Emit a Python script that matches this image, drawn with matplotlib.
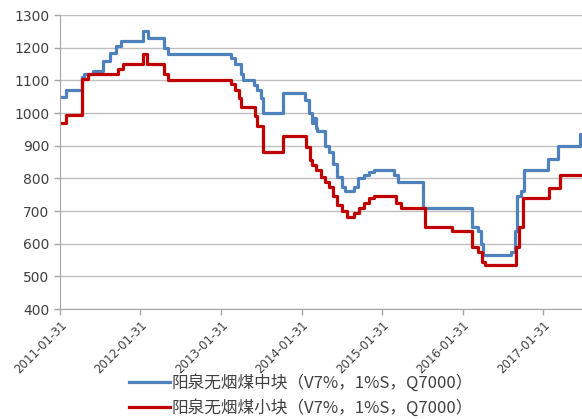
import matplotlib
matplotlib.use('Agg')
import matplotlib.pyplot as plt
import pandas as pd

plt.rcParams['font.family'] = ['Noto Sans CJK SC', 'DejaVu Sans']

# 阳泉无烟煤中块: dates where the price changes, and the new price
mid_dates = ['2011-01-31', '2011-02-28', '2011-05-10', '2011-05-20', '2011-06-28', '2011-08-15',
             '2011-09-15', '2011-10-10', '2011-11-03', '2012-02-12', '2012-03-05', '2012-05-15',
             '2012-06-05', '2013-03-15', '2013-04-05', '2013-04-30', '2013-05-10', '2013-06-28',
             '2013-07-12', '2013-07-31', '2013-08-10', '2013-11-06', '2014-02-15', '2014-03-05',
             '2014-03-20', '2014-03-28', '2014-04-05', '2014-04-12', '2014-05-15', '2014-06-05',
             '2014-06-20', '2014-07-10', '2014-07-31', '2014-08-15', '2014-09-25', '2014-10-12',
             '2014-11-10', '2014-11-30', '2014-12-25', '2015-03-25', '2015-04-15', '2015-08-06',
             '2016-03-15', '2016-04-10', '2016-04-22', '2016-05-01', '2016-09-05', '2016-09-25',
             '2016-10-03', '2016-10-20', '2016-11-03', '2017-02-20', '2017-04-06', '2017-07-18',
             '2017-07-25']
mid_vals = [1050, 1070, 1110, 1120, 1130, 1160,
            1185, 1205, 1220, 1250, 1230, 1200,
            1180, 1170, 1150, 1120, 1100, 1085,
            1070, 1045, 1000, 1060, 1040, 1000,
            970, 985, 955, 945, 900, 880,
            845, 805, 775, 760, 775, 800,
            810, 820, 825, 810, 790, 710,
            650, 640, 600, 565, 575, 640,
            745, 760, 825, 860, 900, 935,
            935]

# 阳泉无烟煤小块
small_dates = ['2011-01-31', '2011-02-28', '2011-05-10', '2011-06-05', '2011-10-20', '2011-11-15',
               '2012-02-12', '2012-03-01', '2012-05-15', '2012-06-05', '2013-03-15', '2013-04-05',
               '2013-04-20', '2013-05-03', '2013-07-02', '2013-07-12', '2013-08-10', '2013-11-06',
               '2014-02-20', '2014-03-08', '2014-03-20', '2014-04-08', '2014-04-30', '2014-05-15',
               '2014-06-05', '2014-06-20', '2014-07-12', '2014-07-31', '2014-08-25', '2014-09-25',
               '2014-10-18', '2014-11-10', '2014-11-30', '2014-12-25', '2015-04-03', '2015-04-25',
               '2015-08-15', '2015-12-12', '2016-03-15', '2016-04-10', '2016-04-28', '2016-05-10',
               '2016-09-28', '2016-10-12', '2016-10-31', '2017-02-27', '2017-04-15', '2017-07-25']
small_vals = [970, 995, 1105, 1120, 1135, 1150,
              1180, 1150, 1120, 1100, 1090, 1070,
              1045, 1020, 990, 960, 880, 930,
              895, 855, 840, 825, 805, 790,
              775, 745, 720, 700, 683, 695,
              710, 725, 740, 745, 725, 710,
              650, 640, 590, 575, 545, 535,
              590, 650, 740, 770, 810, 810]

labels = ['阳泉无烟煤中块（V7%，1%S，Q7000）', '阳泉无烟煤小块（V7%，1%S，Q7000）']
tick_dates = ['2011-01-31', '2012-01-31', '2013-01-31', '2014-01-31',
              '2015-01-31', '2016-01-31', '2017-01-31']

fig = plt.figure(figsize=(5.82, 4.19), dpi=100)
ax = fig.add_axes([0.103, 0.2625, 0.897, 0.7015])

ax.plot(pd.to_datetime(mid_dates), mid_vals, drawstyle='steps-post',
        color='#4F81BD', lw=2.3, label=labels[0])
ax.plot(pd.to_datetime(small_dates), small_vals, drawstyle='steps-post',
        color='#C00000', lw=2.3, label=labels[1])

ax.set_ylim(400, 1300)
ax.set_yticks(range(400, 1301, 100))
ax.set_xlim(pd.Timestamp('2011-01-31'), pd.Timestamp('2017-07-25'))
ax.set_xticks(pd.to_datetime(tick_dates))
ax.set_xticklabels(tick_dates, rotation=45, ha='right', rotation_mode='anchor',
                   fontsize=8.5, color='#404040', family='DejaVu Sans')
for t in ax.get_yticklabels():
    t.set_fontsize(10)
    t.set_color('#404040')
    t.set_family('DejaVu Sans')

# 网格线和坐标轴
ax.grid(axis='y', color='#BFBFBF', lw=1.0)
ax.set_axisbelow(True)
for s in ['top', 'right']:
    ax.spines[s].set_visible(False)
ax.spines['left'].set_color('#A6A6A6')
ax.spines['bottom'].set_color('#A6A6A6')
ax.tick_params(axis='both', color='#A6A6A6', length=4, width=1)
ax.tick_params(axis='x', pad=3)

fig.legend(loc='center', bbox_to_anchor=(0.517, 0.057), ncol=1, frameon=False,
           fontsize=12, handlelength=2.5, labelspacing=0.45, handletextpad=0.1,
           labelcolor='#404040')

fig.savefig('out.png', dpi=100)
